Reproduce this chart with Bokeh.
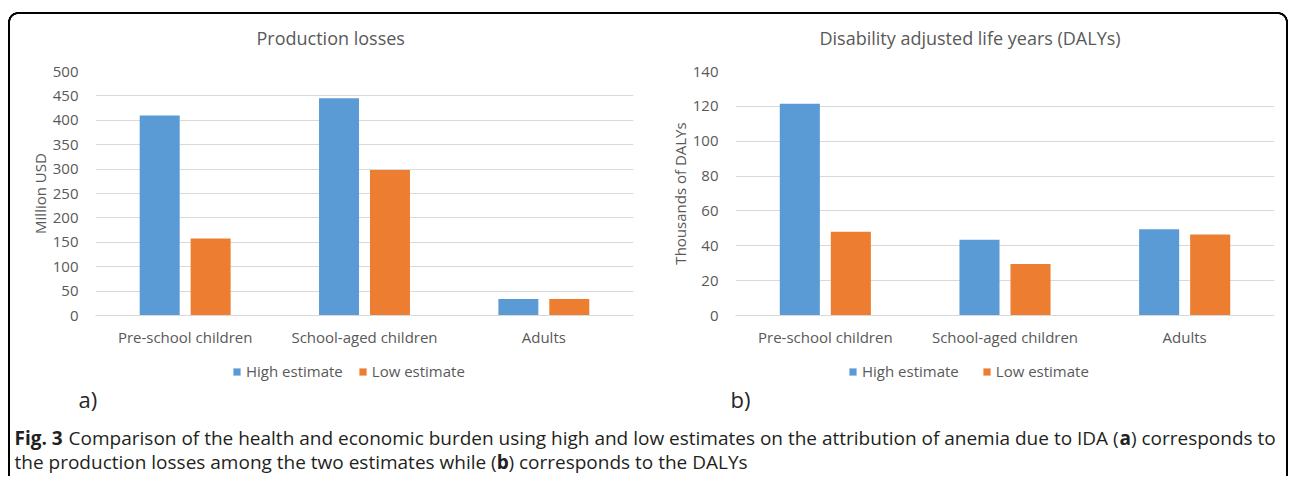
from bokeh.plotting import figure
from bokeh.models import (FactorRange, Range1d, Legend, LegendItem, Label,
                          FixedTicker, ColumnDataSource)
from bokeh.transform import dodge
from bokeh.layouts import column, row
from bokeh.embed import file_html
from bokeh.resources import INLINE

# ---------------- data ----------------
groups = ["Pre-school children", "School-aged children", "Adults"]
series_names = ["High estimate", "Low estimate"]

prod_high = [410, 445, 34]
prod_low = [158, 298, 34]
prod_ticks = [0, 50, 100, 150, 200, 250, 300, 350, 400, 450, 500]

daly_high = [121.5, 43.5, 49.5]
daly_low = [48, 29.5, 46.5]
daly_ticks = [0, 20, 40, 60, 80, 100, 120, 140]

titles = ["Production losses", "Disability adjusted life years (DALYs)"]
ylabels = ["Million USD", "Thousands of DALYs"]
tags = ["a)", "b)"]

cap1 = ["Fig. 3", "Comparison of the health and economic burden using high and low estimates on the attribution of anemia due to IDA (", "a", ") corresponds to"]
cap2 = ["the production losses among the two estimates while (", "b", ") corresponds to the DALYs"]

# ---------------- style ----------------
BLUE = "#5b9bd5"
ORANGE = "#ed7d31"
TEXT = "#595959"
GRID = "#d9d9d9"
FONT = "Open Sans"
PANEL_H = 355


def make_panel(title, ylabel, high, low, ticks, ymax, width, min_left, min_right,
               title_offset):
    src = ColumnDataSource(dict(group=groups, high=high, low=low))
    p = figure(width=width, height=PANEL_H,
               x_range=FactorRange(factors=groups, range_padding=0),
               y_range=Range1d(0, ymax),
               toolbar_location=None, output_backend="svg",
               min_border_left=min_left, min_border_right=min_right,
               min_border_top=71, min_border_bottom=PANEL_H - 71 - 244,
               outline_line_color=None,
               border_fill_color=None, background_fill_color=None)
    p.title.text = title
    p.title.align = "left"
    p.title.offset = title_offset
    p.title.standoff = 44
    p.title.text_font = FONT
    p.title.text_font_size = "18px"
    p.title.text_font_style = "normal"
    p.title.text_color = TEXT

    p.vbar(x=dodge("group", -0.142, range=p.x_range), top="high",
           width=0.223, source=src, fill_color=BLUE, line_color=None)
    p.vbar(x=dodge("group", 0.142, range=p.x_range), top="low",
           width=0.223, source=src, fill_color=ORANGE, line_color=None)

    p.xgrid.grid_line_color = None
    p.ygrid.grid_line_color = GRID
    p.ygrid.grid_line_width = 1

    p.yaxis.ticker = FixedTicker(ticks=ticks)
    p.yaxis.axis_line_color = None
    p.yaxis.major_tick_line_color = None
    p.yaxis.minor_tick_line_color = None
    p.yaxis.major_label_standoff = 11
    p.yaxis.major_label_text_font = FONT
    p.yaxis.major_label_text_font_size = "15px"
    p.yaxis.major_label_text_color = TEXT
    p.yaxis.axis_label = ylabel
    p.yaxis.axis_label_standoff = 0
    p.yaxis.axis_label_text_font = FONT
    p.yaxis.axis_label_text_font_size = "15px"
    p.yaxis.axis_label_text_font_style = "normal"
    p.yaxis.axis_label_text_color = TEXT

    p.xaxis.axis_line_color = GRID
    p.xaxis.major_tick_line_color = None
    p.xaxis.minor_tick_line_color = None
    p.xaxis.major_label_standoff = 5
    p.xaxis.major_label_text_font = FONT
    p.xaxis.major_label_text_font_size = "15px"
    p.xaxis.major_label_text_color = TEXT
    return p


pa = make_panel(titles[0], ylabels[0], prod_high, prod_low, prod_ticks, 500,
                650, 95, 17, 161)
pb = make_panel(titles[1], ylabels[1], daly_high, daly_low, daly_ticks, 140,
                638, 85, 14, 84)

# lower strip: legends, panel tags and the figure caption
CAP_W, CAP_H = 1288, 121
pc = figure(width=CAP_W, height=CAP_H, x_range=Range1d(0, CAP_W), y_range=Range1d(0, CAP_H),
            x_axis_type=None, y_axis_type=None, toolbar_location=None,
            output_backend="svg", min_border=0, outline_line_color=None,
            border_fill_color=None, background_fill_color=None)
pc.xgrid.visible = False
pc.ygrid.visible = False

# legend keys: zero-size bars that only supply the legend swatches
key_src = ColumnDataSource(dict(x=[0], top=[0]))
k_high = pc.vbar(x="x", top="top", width=0, source=key_src, fill_color=BLUE, line_color=None)
k_low = pc.vbar(x="x", top="top", width=0, source=key_src, fill_color=ORANGE, line_color=None)

for lx, spacing in [(232, 15), (848, 23)]:
    pc.add_layout(Legend(items=[LegendItem(label=series_names[0], renderers=[k_high]),
                                LegendItem(label=series_names[1], renderers=[k_low])],
                         location=(lx, 95), orientation="horizontal",
                         border_line_color=None, background_fill_alpha=0,
                         padding=0, margin=0, spacing=spacing,
                         label_standoff=5, glyph_width=9, glyph_height=9,
                         label_text_font=FONT, label_text_font_size="15px",
                         label_text_color=TEXT))

TAG_COLOR = "#262626"
pc.add_layout(Label(x=78, y=78, text=tags[0], text_font=FONT, text_font_size="22px",
                    text_color=TAG_COLOR, text_baseline="middle"))
pc.add_layout(Label(x=730, y=78, text=tags[1], text_font=FONT, text_font_size="22px",
                    text_color=TAG_COLOR, text_baseline="middle"))

CAP_COLOR = "#231f20"
CAP_SIZE = "19px"
x0 = 14
y1, y2 = 39, 15
w_fig = 54.1
w_seg2 = 1050.9
w_a = 11.4
w_seg2b = 482.3
w_b = 11.6
cap_specs = [
    (cap1[0], x0, y1, "bold"),
    (cap1[1], x0 + w_fig, y1, "normal"),
    (cap1[2], x0 + w_fig + w_seg2, y1, "bold"),
    (cap1[3], x0 + w_fig + w_seg2 + w_a, y1, "normal"),
    (cap2[0], x0, y2, "normal"),
    (cap2[1], x0 + w_seg2b, y2, "bold"),
    (cap2[2], x0 + w_seg2b + w_b, y2, "normal"),
]
for txt, xx, yy, st in cap_specs:
    pc.add_layout(Label(x=xx, y=yy, text=txt, text_font=FONT, text_font_size=CAP_SIZE,
                        text_font_style=st, text_color=CAP_COLOR, text_baseline="middle"))

# rounded frame (top, left, right edges + top corners)
ring = "transparent 7.5px, #000 8px, #000 9.6px, transparent 10.2px"
frame_css = {
    "background-image": ", ".join([
        "linear-gradient(#000, #000)",
        "linear-gradient(#000, #000)",
        "linear-gradient(#000, #000)",
        f"radial-gradient(circle at 100% 100%, {ring})",
        f"radial-gradient(circle at 0% 100%, {ring})",
    ]),
    "background-size": "1260px 2px, 2px 470px, 2px 470px, 10px 10px, 10px 10px",
    "background-position": "18px 12px, 8px 22px, 1286px 22px, 8px 12px, 1278px 12px",
    "background-repeat": "no-repeat",
}

root = column(row(pa, pb), pc, styles=frame_css)

open("out.html", "w").write(file_html(root, INLINE))
